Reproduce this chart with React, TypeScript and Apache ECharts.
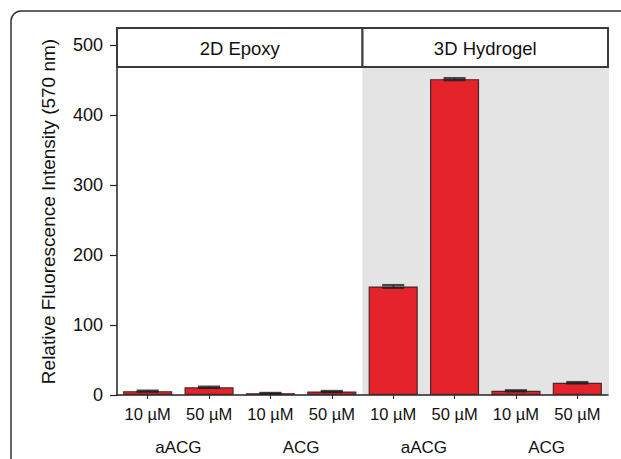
import React, { useEffect, useRef } from "react";
import * as echarts from "echarts";

const concentrations = ["10 µM", "50 µM", "10 µM", "50 µM", "10 µM", "50 µM", "10 µM", "50 µM"];
const groups = ["aACG", "ACG", "aACG", "ACG"];
const panels = ["2D Epoxy", "3D Hydrogel"];
const values = [5.5, 11, 2.5, 5, 155, 451, 6, 17.5];
const errors = [0.8, 1, 0.5, 0.8, 2, 1.5, 0.8, 1];
const yTicks = [0, 100, 200, 300, 400, 500];

const W = 621;
const H = 459;
const GRID_LEFT = 117;
const GRID_RIGHT = 608;
const GRID_TOP = 28;
const GRID_BOTTOM = 395;
const HEADER_BOTTOM = 67;
const FONT = "'Liberation Sans', Arial, Helvetica, sans-serif";

export default function App() {
  const ref = useRef<HTMLDivElement>(null);
  useEffect(() => {
    if (!ref.current) return;
    const chart = echarts.init(ref.current, undefined, { renderer: "svg" });
    const mid = (GRID_LEFT + GRID_RIGHT) / 2;
    const option: any = {
      animation: false,
      backgroundColor: "#ffffff",
      textStyle: { fontFamily: FONT },
      grid: { left: GRID_LEFT, right: W - GRID_RIGHT, top: GRID_TOP, bottom: H - GRID_BOTTOM, containLabel: false },
      xAxis: [
        {
          type: "category",
          data: concentrations,
          position: "bottom",
          axisLine: { show: true, lineStyle: { color: "#222", width: 1.5 } },
          axisTick: { show: true, alignWithLabel: true, length: 4, lineStyle: { color: "#222", width: 1 } },
          axisLabel: { color: "#111", fontSize: 16.5, margin: 10, fontFamily: FONT },
          splitLine: { show: false },
        },
        {
          type: "category",
          data: groups,
          position: "bottom",
          offset: 34,
          axisLine: { show: false },
          axisTick: { show: false },
          axisLabel: { color: "#111", fontSize: 17, margin: 10, fontFamily: FONT },
          splitLine: { show: false },
        },
      ],
      yAxis: {
        type: "value",
        min: 0,
        max: 524,
        interval: 100,
        name: "Relative Fluorescence Intensity (570 nm)",
        nameLocation: "middle",
        nameGap: 59,
        nameTextStyle: { color: "#111", fontSize: 19, fontFamily: FONT },
        axisLine: { show: true, lineStyle: { color: "#222", width: 1.5 } },
        axisTick: { show: true, length: 7, customValues: yTicks, lineStyle: { color: "#222", width: 1.2 } },
        axisLabel: { color: "#111", fontSize: 18, margin: 14, customValues: yTicks, fontFamily: FONT },
        splitLine: { show: false },
      },
      graphic: [
        {
          type: "rect",
          z: -10,
          silent: true,
          shape: { x: 11, y: 11, width: 800, height: 700, r: 10 },
          style: { fill: "none", stroke: "#333", lineWidth: 1.5 },
        },
        {
          type: "rect",
          z: -5,
          silent: true,
          shape: { x: mid, y: HEADER_BOTTOM, width: GRID_RIGHT + 1 - mid, height: GRID_BOTTOM - HEADER_BOTTOM },
          style: { fill: "#e4e4e4" },
        },
        {
          type: "rect",
          z: 50,
          silent: true,
          shape: { x: GRID_LEFT, y: GRID_TOP, width: mid - GRID_LEFT, height: HEADER_BOTTOM - GRID_TOP },
          style: { fill: "#ffffff", stroke: "#3a3a3a", lineWidth: 2 },
        },
        {
          type: "rect",
          z: 50,
          silent: true,
          shape: { x: mid, y: GRID_TOP, width: GRID_RIGHT - mid, height: HEADER_BOTTOM - GRID_TOP },
          style: { fill: "#ffffff", stroke: "#3a3a3a", lineWidth: 2 },
        },
        {
          type: "text",
          z: 51,
          silent: true,
          x: (GRID_LEFT + mid) / 2,
          y: (GRID_TOP + HEADER_BOTTOM) / 2 + 1,
          style: { text: panels[0], fill: "#111", fontSize: 18.5, fontFamily: FONT, textAlign: "center", textVerticalAlign: "middle" },
        },
        {
          type: "text",
          z: 51,
          silent: true,
          x: (mid + GRID_RIGHT) / 2,
          y: (GRID_TOP + HEADER_BOTTOM) / 2 + 1,
          style: { text: panels[1], fill: "#111", fontSize: 18.5, fontFamily: FONT, textAlign: "center", textVerticalAlign: "middle" },
        },
      ],
      series: [
        {
          type: "bar",
          xAxisIndex: 0,
          data: values,
          barWidth: "80%",
          itemStyle: { color: "#e4232a", borderColor: "#4a2626", borderWidth: 1.2 },
          z: 2,
        },
        {
          type: "custom",
          xAxisIndex: 0,
          z: 3,
          data: values.map((v, i) => [i, v, errors[i]]),
          encode: { x: 0, y: 1 },
          renderItem: (params: any, api: any) => {
            const x = api.value(0);
            const y = api.value(1);
            const e = api.value(2);
            const top = api.coord([x, y + e]);
            const bot = api.coord([x, y - e]);
            const half = api.size([1, 0])[0] * 0.18;
            const style = { stroke: "rgba(30,30,30,0.8)", lineWidth: 2.2 };
            return {
              type: "group",
              children: [
                { type: "line", shape: { x1: top[0], y1: top[1], x2: bot[0], y2: bot[1] }, style: { stroke: "#111", lineWidth: 1 } },
                { type: "line", shape: { x1: top[0] - half, y1: top[1], x2: top[0] + half, y2: top[1] }, style },
                { type: "line", shape: { x1: bot[0] - half, y1: bot[1], x2: bot[0] + half, y2: bot[1] }, style },
              ],
            };
          },
        },
      ],
    };
    chart.setOption(option);
    return () => chart.dispose();
  }, []);
  return <div ref={ref} style={{ position: "fixed", left: 0, top: 0, width: W, height: H }} />;
}
